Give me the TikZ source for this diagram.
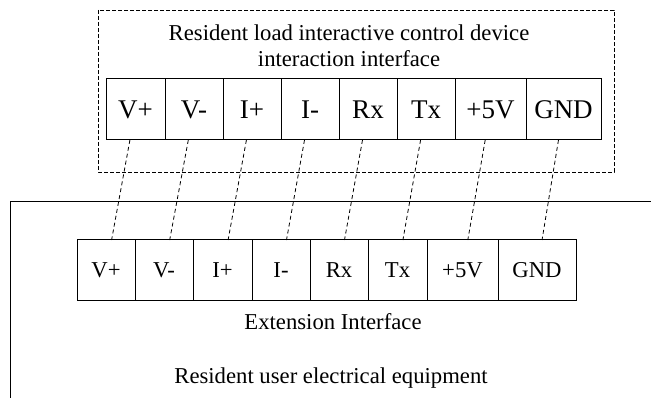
\documentclass[tikz,border=0pt]{standalone}
\usepackage{fontspec}
\setmainfont{Liberation Serif}
\usetikzlibrary{positioning}

\tikzset{
  devpin/.style={rectangle, draw, line width=1pt, outer sep=0pt, inner sep=0pt, minimum height=61pt, font=\fontsize{27}{30}\selectfont},
  extpin/.style={rectangle, draw, line width=1pt, outer sep=0pt, inner sep=0pt, minimum height=61pt, font=\fontsize{22.7}{26}\selectfont},
  wire/.style={line width=0.8pt, dash pattern=on 4pt off 3pt},
  caption/.style={font=\fontsize{22.7}{26}\selectfont, align=center}
}

\begin{document}
\begin{tikzpicture}[x=1pt, y=-1pt, node distance=0pt]
    \useasboundingbox (0,0) rectangle (651,398);

    % Interactive control device
    \draw [line width=0.8pt, dash pattern=on 4pt off 2pt] (98,10) rectangle (614,172);
    \node [caption] (devtitle) at (349,46) {Resident load interactive control device\\interaction interface};
    \node [devpin, minimum width=59pt, anchor=north west] (dvplus) at (106,79) {V+};
    \node [devpin, minimum width=58pt, right=of dvplus] (dvminus) {V-};
    \node [devpin, minimum width=58pt, right=of dvminus] (diplus) {I+};
    \node [devpin, minimum width=58pt, right=of diplus] (diminus) {I-};
    \node [devpin, minimum width=58pt, right=of diminus] (drx) {Rx};
    \node [devpin, minimum width=58pt, right=of drx] (dtx) {Tx};
    \node [devpin, minimum width=71pt, right=of dtx] (dfive) {+5V};
    \node [devpin, minimum width=75pt, right=of dfive] (dgnd) {GND};

    % Electrical equipment
    \draw [line width=1pt] (651,202) -| (10,398);
    \node [extpin, minimum width=58pt, anchor=north west] (evplus) at (77,240) {V+};
    \node [extpin, minimum width=58pt, right=of evplus] (evminus) {V-};
    \node [extpin, minimum width=59pt, right=of evminus] (eiplus) {I+};
    \node [extpin, minimum width=58pt, right=of eiplus] (eiminus) {I-};
    \node [extpin, minimum width=58pt, right=of eiminus] (erx) {Rx};
    \node [extpin, minimum width=59pt, right=of erx] (etx) {Tx};
    \node [extpin, minimum width=71pt, right=of etx] (efive) {+5V};
    \node [extpin, minimum width=78pt, right=of efive] (egnd) {GND};

    % Wires
    \draw [wire] (dvplus) -- (evplus);
    \draw [wire] (dvminus) -- (evminus);
    \draw [wire] (diplus) -- (eiplus);
    \draw [wire] (diminus) -- (eiminus);
    \draw [wire] (drx) -- (erx);
    \draw [wire] (dtx) -- (etx);
    \draw [wire] (dfive) -- (efive);
    \draw [wire] (dgnd) -- (egnd);

    % Labels
    \node [caption, anchor=base] (exttitle) at (333,330) {Extension Interface};
    \node [caption, anchor=base] (equiptitle) at (331,383) {Resident user electrical equipment};
\end{tikzpicture}
\end{document}
